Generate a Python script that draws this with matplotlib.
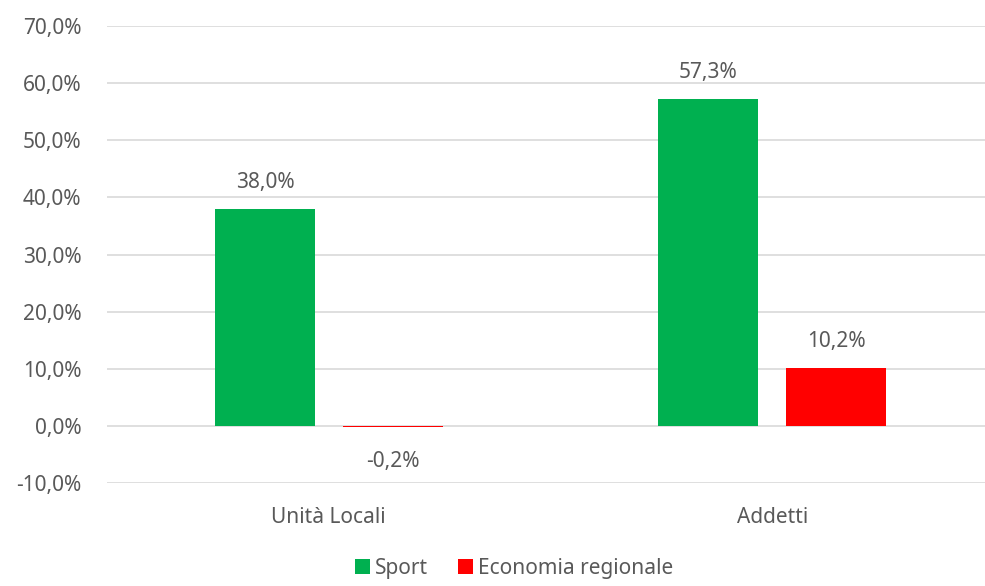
import numpy as np
import matplotlib.pyplot as plt

# Variazione percentuale: Sport vs economia regionale
categorie = ["Unità Locali", "Addetti"]
sport = [38.0, 57.3]
economia = [-0.2, 10.2]
serie_nomi = ["Sport", "Economia regionale"]

verde = "#00B050"
rosso = "#FF0000"
grigio = "#595959"
fs = 15

plt.rcParams['font.family'] = ['Noto Sans', 'DejaVu Sans']

fig = plt.figure(figsize=(9.85, 5.86), dpi=100)
ax = fig.add_axes([107 / 985, 1 - 483 / 586, (994 - 107) / 985, (483 - 26) / 586])

x = np.arange(len(categorie))
larghezza = 0.225
passo = 0.144

b1 = ax.bar(x - passo, sport, larghezza, color=verde, label=serie_nomi[0], zorder=3)
b2 = ax.bar(x + passo, economia, larghezza, color=rosso, label=serie_nomi[1], zorder=3)

def fmt(v):
    return f"{v:.1f}".replace(".", ",") + "%"

# etichette dei valori sopra (o sotto) le barre
for barre, valori in ((b1, sport), (b2, economia)):
    for b, v in zip(barre, valori):
        cx = b.get_x() + b.get_width() / 2
        dy = 19 if v >= 0 else -25
        ax.annotate(fmt(v), (cx, v), xytext=(0, dy), textcoords="offset points",
                    ha="center", va="center", fontsize=fs, color=grigio)

ax.set_xlim(-0.5, 1.5)
ax.set_ylim(-10, 70)
ax.set_yticks(np.arange(-10, 71, 10))
ax.set_yticklabels([fmt(v) for v in np.arange(-10, 71, 10)])
ax.set_xticks(x)
ax.set_xticklabels(categorie)

ax.grid(axis="y", color="#D9D9D9", linewidth=1.2, zorder=0)
for s in ax.spines.values():
    s.set_visible(False)
ax.tick_params(axis="both", length=0, labelsize=fs, labelcolor=grigio)
ax.tick_params(axis="y", pad=18.5)
ax.tick_params(axis="x", pad=17)

fig.legend(loc="lower center", bbox_to_anchor=(0.522, -0.02), ncol=2, frameon=False,
           fontsize=fs, labelcolor=grigio, handlelength=0.72, handleheight=0.72,
           handletextpad=0.25, columnspacing=1.45)

fig.savefig("out.png", dpi=100)
